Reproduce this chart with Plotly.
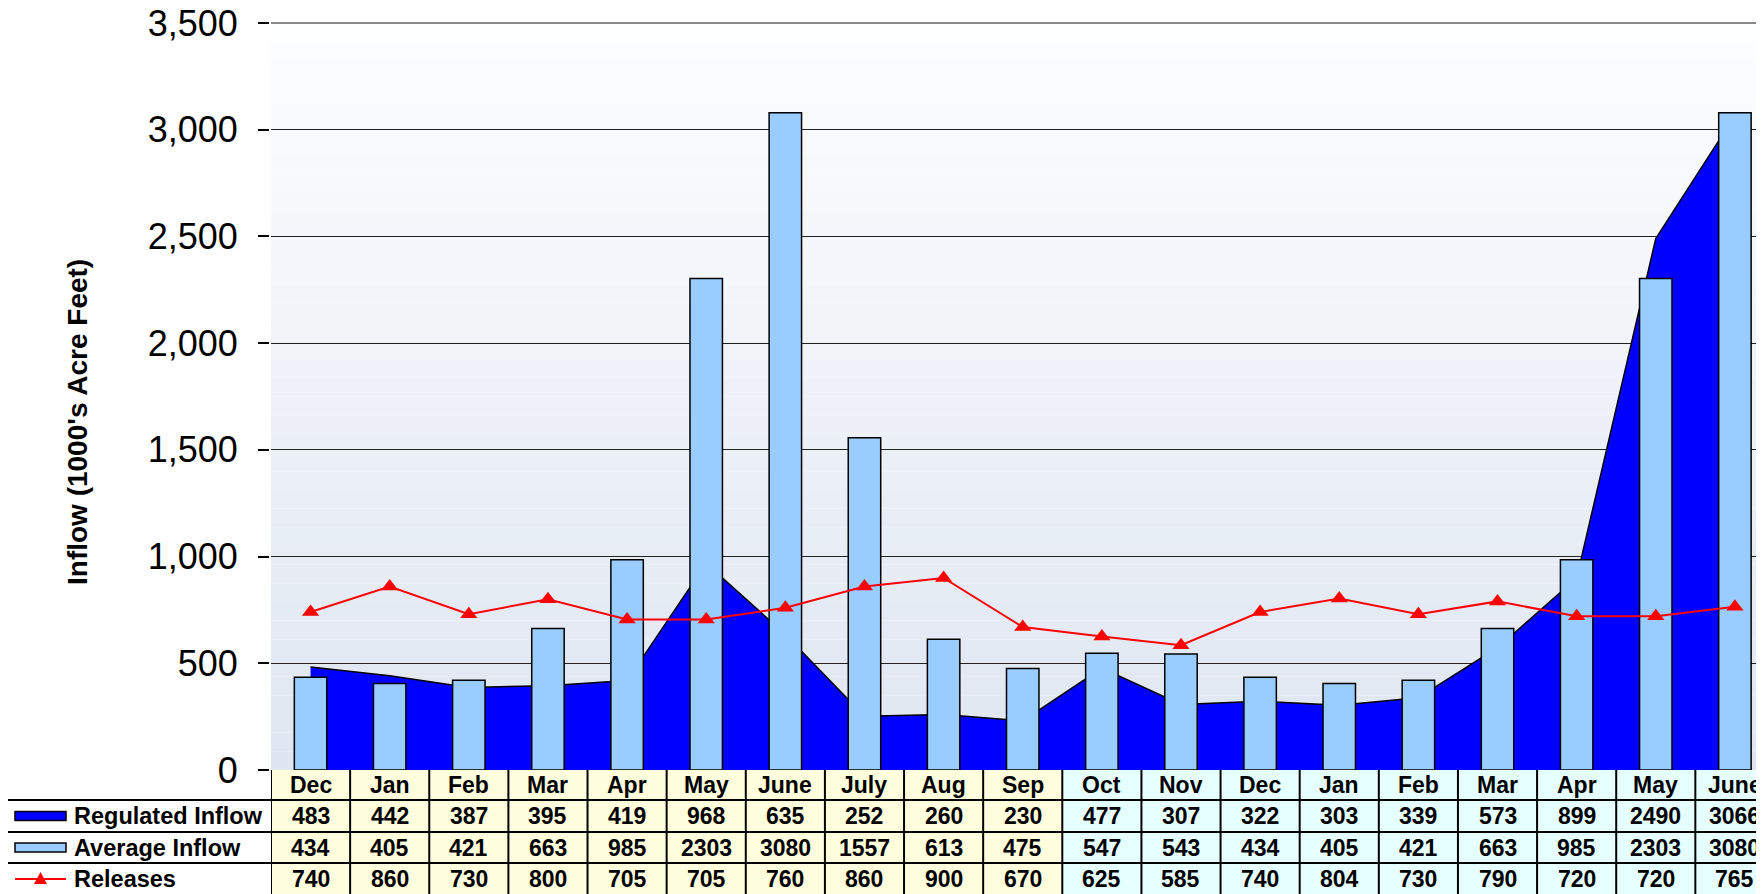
import plotly.graph_objects as go

# ---------------- data ----------------
months = ["Dec", "Jan", "Feb", "Mar", "Apr", "May", "June", "July", "Aug", "Sep",
          "Oct", "Nov", "Dec", "Jan", "Feb", "Mar", "Apr", "May", "June"]
regulated_inflow = [483, 442, 387, 395, 419, 968, 635, 252, 260, 230,
                    477, 307, 322, 303, 339, 573, 899, 2490, 3066]
average_inflow = [434, 405, 421, 663, 985, 2303, 3080, 1557, 613, 475,
                  547, 543, 434, 405, 421, 663, 985, 2303, 3080]
releases = [740, 860, 730, 800, 705, 705, 760, 860, 900, 670,
            625, 585, 740, 804, 730, 790, 720, 720, 765]
series_names = ["Regulated Inflow", "Average Inflow", "Releases"]
n_first_year = 10  # Dec..Sep shaded yellow, Oct..June shaded cyan

# ---------------- geometry helpers (screen pixels) ----------------
W, H = 1764, 894
OFF = 8                      # page body margin
L, T, B = 271, 23, 770       # target screen pixel bounds of plot area
ml, mt = L - OFF, T - OFF
mb = H + OFF - B
PW = W - ml
PH = H - mt - mb
PITCH = 79.13
FONT = "Liberation Sans, Arial, sans-serif"

def px_x(px):
    return (px - L) / PW

def px_y(py):
    return (B - py) / PH

x_idx = list(range(len(months)))
x_max = -0.5 + PW / PITCH

fig = go.Figure()

fig.add_trace(go.Scatter(
    x=x_idx, y=regulated_inflow, name=series_names[0], mode="lines",
    fill="tozeroy", fillcolor="#0000FF", line=dict(color="black", width=1.5),
    zorder=0, showlegend=False))
fig.add_trace(go.Bar(
    x=x_idx, y=average_inflow, name=series_names[1], width=0.41,
    marker=dict(color="#99CCFF", line=dict(color="black", width=1.5)),
    zorder=1, showlegend=False))
fig.add_trace(go.Scatter(
    x=x_idx, y=releases, name=series_names[2], mode="lines+markers",
    line=dict(color="#FF0000", width=2),
    marker=dict(symbol="triangle-up", size=15, color="#FF0000"),
    zorder=2, showlegend=False))

shapes = []
# plot-area gradient background
N = 40
top_c, bot_c = (253, 254, 255), (223, 230, 241)
for i in range(N):
    t = (i + 0.5) / N
    c = tuple(round(bot_c[k] + (top_c[k] - bot_c[k]) * t) for k in range(3))
    shapes.append(dict(type="rect", xref="paper", yref="paper", x0=0, x1=1,
                       y0=i / N, y1=(i + 1) / N, layer="below",
                       fillcolor="rgb(%d,%d,%d)" % c, line=dict(width=0)))
# top border line
shapes.append(dict(type="line", xref="paper", yref="paper", x0=0, x1=1, y0=1, y1=1,
                   line=dict(color="#8a8a8a", width=2)))

# ---------------- data table ----------------
rows_px = [770, 800, 832, 863, 897]
row_y = [px_y(p) for p in rows_px]
left_px = 6

# cell fills
shapes.append(dict(type="rect", xref="x", yref="paper", x0=-0.5, x1=n_first_year - 0.5,
                   y0=row_y[-1], y1=row_y[0], fillcolor="#FFFFDD", line=dict(width=0),
                   layer="below"))
shapes.append(dict(type="rect", xref="x", yref="paper", x0=n_first_year - 0.5, x1=len(months) - 0.5,
                   y0=row_y[-1], y1=row_y[0], fillcolor="#E6FFFF", line=dict(width=0),
                   layer="below"))
# horizontal lines
for p in rows_px[1:4]:
    shapes.append(dict(type="line", xref="paper", yref="paper", x0=px_x(left_px), x1=1,
                       y0=px_y(p), y1=px_y(p), line=dict(color="black", width=2)))
# vertical lines
for i in range(len(months) + 1):
    shapes.append(dict(type="line", xref="x", yref="paper", x0=i - 0.5, x1=i - 0.5,
                       y0=row_y[0], y1=row_y[-1], line=dict(color="black", width=2)))
shapes.append(dict(type="line", xref="paper", yref="paper", x0=px_x(left_px), x1=px_x(left_px),
                   y0=row_y[1], y1=row_y[-1], line=dict(color="black", width=2)))

annotations = []
# category labels
for i, m in enumerate(months):
    annotations.append(dict(x=i, y=(row_y[0] + row_y[1]) / 2, xref="x", yref="paper",
                            xanchor="center", yanchor="middle",
                            text="<b>%s</b>" % m, showarrow=False,
                            font=dict(family=FONT, size=23, color="black")))
# values
for r, vals in enumerate([regulated_inflow, average_inflow, releases]):
    yc = (row_y[r + 1] + row_y[r + 2]) / 2
    if r == 2:
        yc = px_y((rows_px[3] + rows_px[3] + 32) / 2)
    for i, v in enumerate(vals):
        annotations.append(dict(x=i, y=yc, xref="x", yref="paper",
                                xanchor="center", yanchor="middle",
                                text="<b>%d</b>" % v, showarrow=False,
                                font=dict(family=FONT, size=23, color="black")))
    annotations.append(dict(x=px_x(72), y=yc, xref="paper", yref="paper",
                            xanchor="left", yanchor="middle",
                            text="<b>%s</b>" % series_names[r], showarrow=False,
                            font=dict(family=FONT, size=23.5, color="black")))

# legend keys
sw_x0, sw_x1 = px_x(15), px_x(66)
for r, col in enumerate(["#0000FF", "#99CCFF"]):
    yc_px = (rows_px[r + 1] + rows_px[r + 2]) / 2
    shapes.append(dict(type="rect", xref="paper", yref="paper", x0=sw_x0, x1=sw_x1,
                       y0=px_y(yc_px + 4.5), y1=px_y(yc_px - 4.5), fillcolor=col,
                       line=dict(color="black", width=1.5)))
yc_px = rows_px[3] + 16
shapes.append(dict(type="line", xref="paper", yref="paper", x0=sw_x0, x1=sw_x1,
                   y0=px_y(yc_px), y1=px_y(yc_px), line=dict(color="#FF0000", width=2)))
cx = px_x(40.5)
shapes.append(dict(type="path", xref="paper", yref="paper",
                   path="M %f %f L %f %f L %f %f Z" % (px_x(34), px_y(yc_px + 5), px_x(47), px_y(yc_px + 5),
                                                       cx, px_y(yc_px - 7)),
                   fillcolor="#FF0000", line=dict(width=0)))

# y-axis title
annotations.append(dict(x=px_x(77), y=px_y(422), xref="paper", yref="paper",
                        xanchor="center", yanchor="middle",
                        text="<b>Inflow (1000's Acre Feet)</b>", textangle=-90,
                        showarrow=False, font=dict(family=FONT, size=28, color="black")))

fig.update_layout(
    width=W, height=H,
    margin=dict(l=ml, r=0, t=mt, b=mb, pad=0, autoexpand=False),
    paper_bgcolor="white", plot_bgcolor="rgba(0,0,0,0)",
    showlegend=False, bargap=0.59,
    shapes=shapes, annotations=annotations,
    xaxis=dict(range=[-0.5, x_max], showticklabels=False, showgrid=False, zeroline=False,
               showline=True, linecolor="black", linewidth=2, ticks="", fixedrange=True,
               automargin=False),
    yaxis=dict(range=[0, 3500], dtick=500, tickformat=",", showgrid=True,
               gridcolor="#222222", gridwidth=1, zeroline=False, showline=True,
               linecolor="black", linewidth=2, ticks="outside", ticklen=11,
               tickcolor="black", tickwidth=2, ticklabelstandoff=13,
               ticklabeloverflow="allow", automargin=False,
               tickfont=dict(family=FONT, size=36, color="black")),
)

fig.write_html("out.html")
